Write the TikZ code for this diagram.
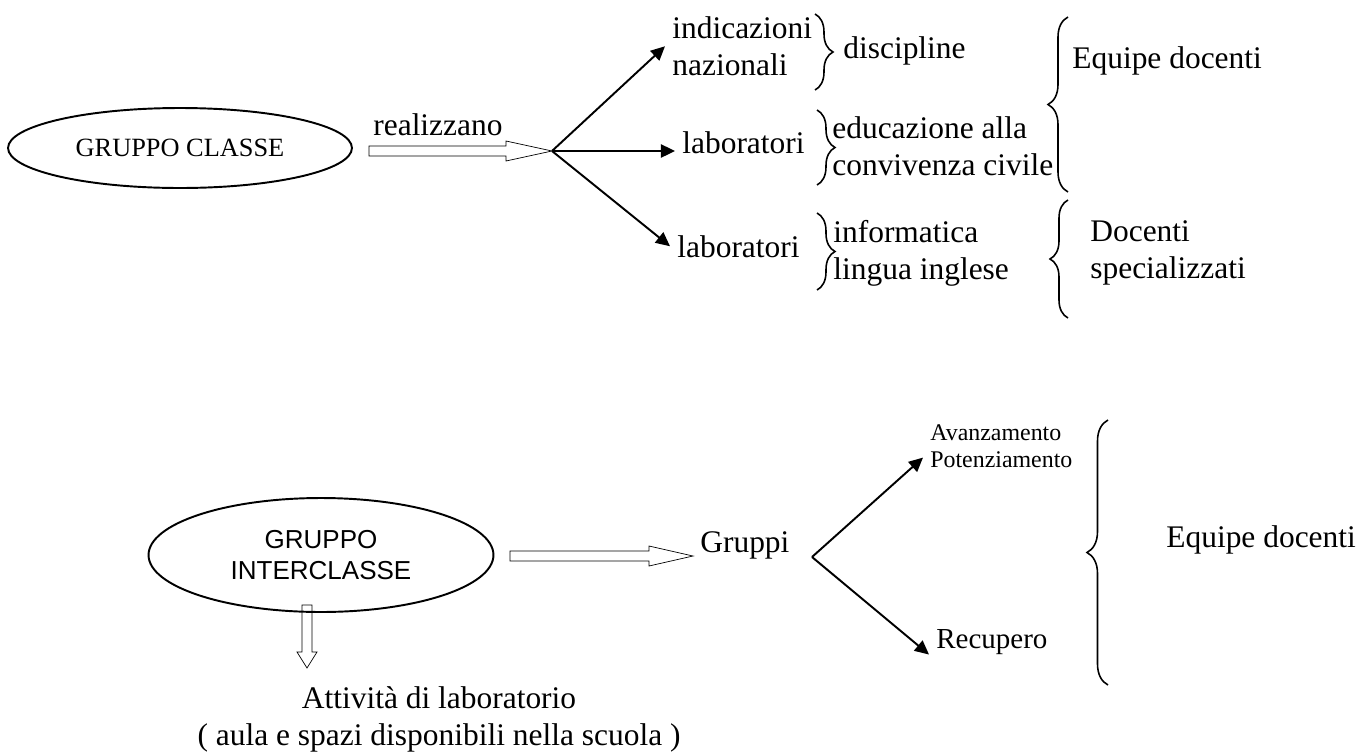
\documentclass[tikz,border=0pt]{standalone}
\usepackage{fontspec}
\setmainfont{Liberation Serif}
\newfontfamily\arialfont{Liberation Sans}
\usetikzlibrary{shapes.geometric, arrows.meta, positioning, calc, decorations.pathreplacing}
\newcommand{\mainsz}{\fontsize{17.9}{21}\selectfont}
\tikzset{
    group/.style={ellipse, draw, line width=1.1pt, inner sep=0pt, align=center},
    txt/.style={inner xsep=0.14cm, inner ysep=0pt, align=left, font=\mainsz},
    fan/.style={-{Triangle[length=8pt, width=7.5pt]}, line width=1.1pt},
    hollow/.style={draw, line width=0.95pt, line join=miter, to path={
        ($(\tikztostart)!0.1cm!90:(\tikztotarget)$)
        -- ($(\tikztotarget)!#1!(\tikztostart)!0.1cm!-90:(\tikztostart)$)
        -- ($(\tikztotarget)!#1!(\tikztostart)!0.2cm!-90:(\tikztostart)$)
        -- (\tikztotarget)
        -- ($(\tikztotarget)!#1!(\tikztostart)!0.2cm!90:(\tikztostart)$)
        -- ($(\tikztotarget)!#1!(\tikztostart)!0.1cm!90:(\tikztostart)$)
        -- ($(\tikztostart)!0.1cm!-90:(\tikztotarget)$)
        -- cycle}},
    hollow/.default=0.9cm,
    bracket/.style={decorate, decoration={brace, amplitude=#1}, line width=0.9pt}
}

\begin{document}
\begin{tikzpicture}[x=0.02cm, y=-0.02cm]
    \useasboundingbox (0,0) rectangle (1359,751);

    % gruppo classe
    \node (gc) [group, minimum width=6.88cm, minimum height=1.6cm, font=\fontsize{15}{18}\selectfont] at (180,148) {GRUPPO CLASSE};
    \node (real) [txt, anchor=base west] at (366,135) {realizzano};
    \coordinate (gcout) at ($(gc.east)+(16,3)$);
    \coordinate (fan1) at (552,151);
    \draw (gcout) to[hollow=0.92cm] (fan1);

    \node (ind) [txt, anchor=north west] at (665,16.4) {indicazioni\\nazionali};
    \node (lab1) [txt, anchor=base west] at (675,153) {laboratori};
    \node (lab2) [txt, anchor=base west] at (670,257) {laboratori};
    \draw[fan] (fan1) -- (ind.west);
    \draw[fan] (fan1) -- (lab1.west |- fan1);
    \draw[fan] (fan1) -- (lab2.west);

    \node (disc) [txt, anchor=base west] at (836,58) {discipline};
    \node (edu) [txt, anchor=north west] at (825,116.4) {educazione alla\\convivenza civile};
    \node (info) [txt, anchor=north west] at (826,220.4) {informatica\\lingua inglese};
    \draw[bracket=0.36cm] (815,14) -- (815,90);
    \draw[bracket=0.36cm] (817,110) -- (817,185);
    \draw[bracket=0.36cm] (817,213) -- (817,290);

    \node (eq1) [txt, anchor=base west] at (1065,68) {Equipe docenti};
    \node (spec) [txt, anchor=north west] at (1083,220.4) {Docenti\\specializzati};
    \draw[bracket=0.4cm] (1068,192) -- (1068,17);
    \draw[bracket=0.36cm] (1068,318) -- (1068,200);

    % gruppo interclasse
    \node (gi) [group, minimum width=6.9cm, minimum height=2.28cm, font=\arialfont\fontsize{14.8}{18.1}\selectfont] at (321,555) {GRUPPO\\INTERCLASSE};
    \node (grp) [txt, anchor=base west] at (693,552) {Gruppi};
    \coordinate (giout) at ($(gi.east)+(15.5,1)$);
    \coordinate (grpin) at (693,556);
    \draw (giout) to[hollow=0.88cm] (grpin);

    \coordinate (gidown) at ($(gi.south)+(-14,-8)$);
    \coordinate (labin) at (307,668);
    \draw (gidown) to[hollow=0.32cm] (labin);
    \node (att) [txt, anchor=north, align=center] at (439,686) {Attività di laboratorio\\( aula e spazi disponibili nella scuola )};

    \coordinate (fan2) at (812,557);
    \node (avp) [txt, anchor=north west, font=\fontsize{13.6}{15.3}\selectfont] at (923,424) {Avanzamento\\Potenziamento};
    \node (rec) [txt, anchor=base west, font=\fontsize{16.5}{19}\selectfont] at (929,648) {Recupero};
    \draw[fan] (fan2) -- ($(avp.south west)+(0,-10)$);
    \draw[fan] (fan2) -- (rec.south west);

    \draw[bracket=0.42cm] (1108,685) -- (1108,420);
    \node (eq2) [txt, anchor=base west] at (1159,547) {Equipe docenti};
\end{tikzpicture}
\end{document}
